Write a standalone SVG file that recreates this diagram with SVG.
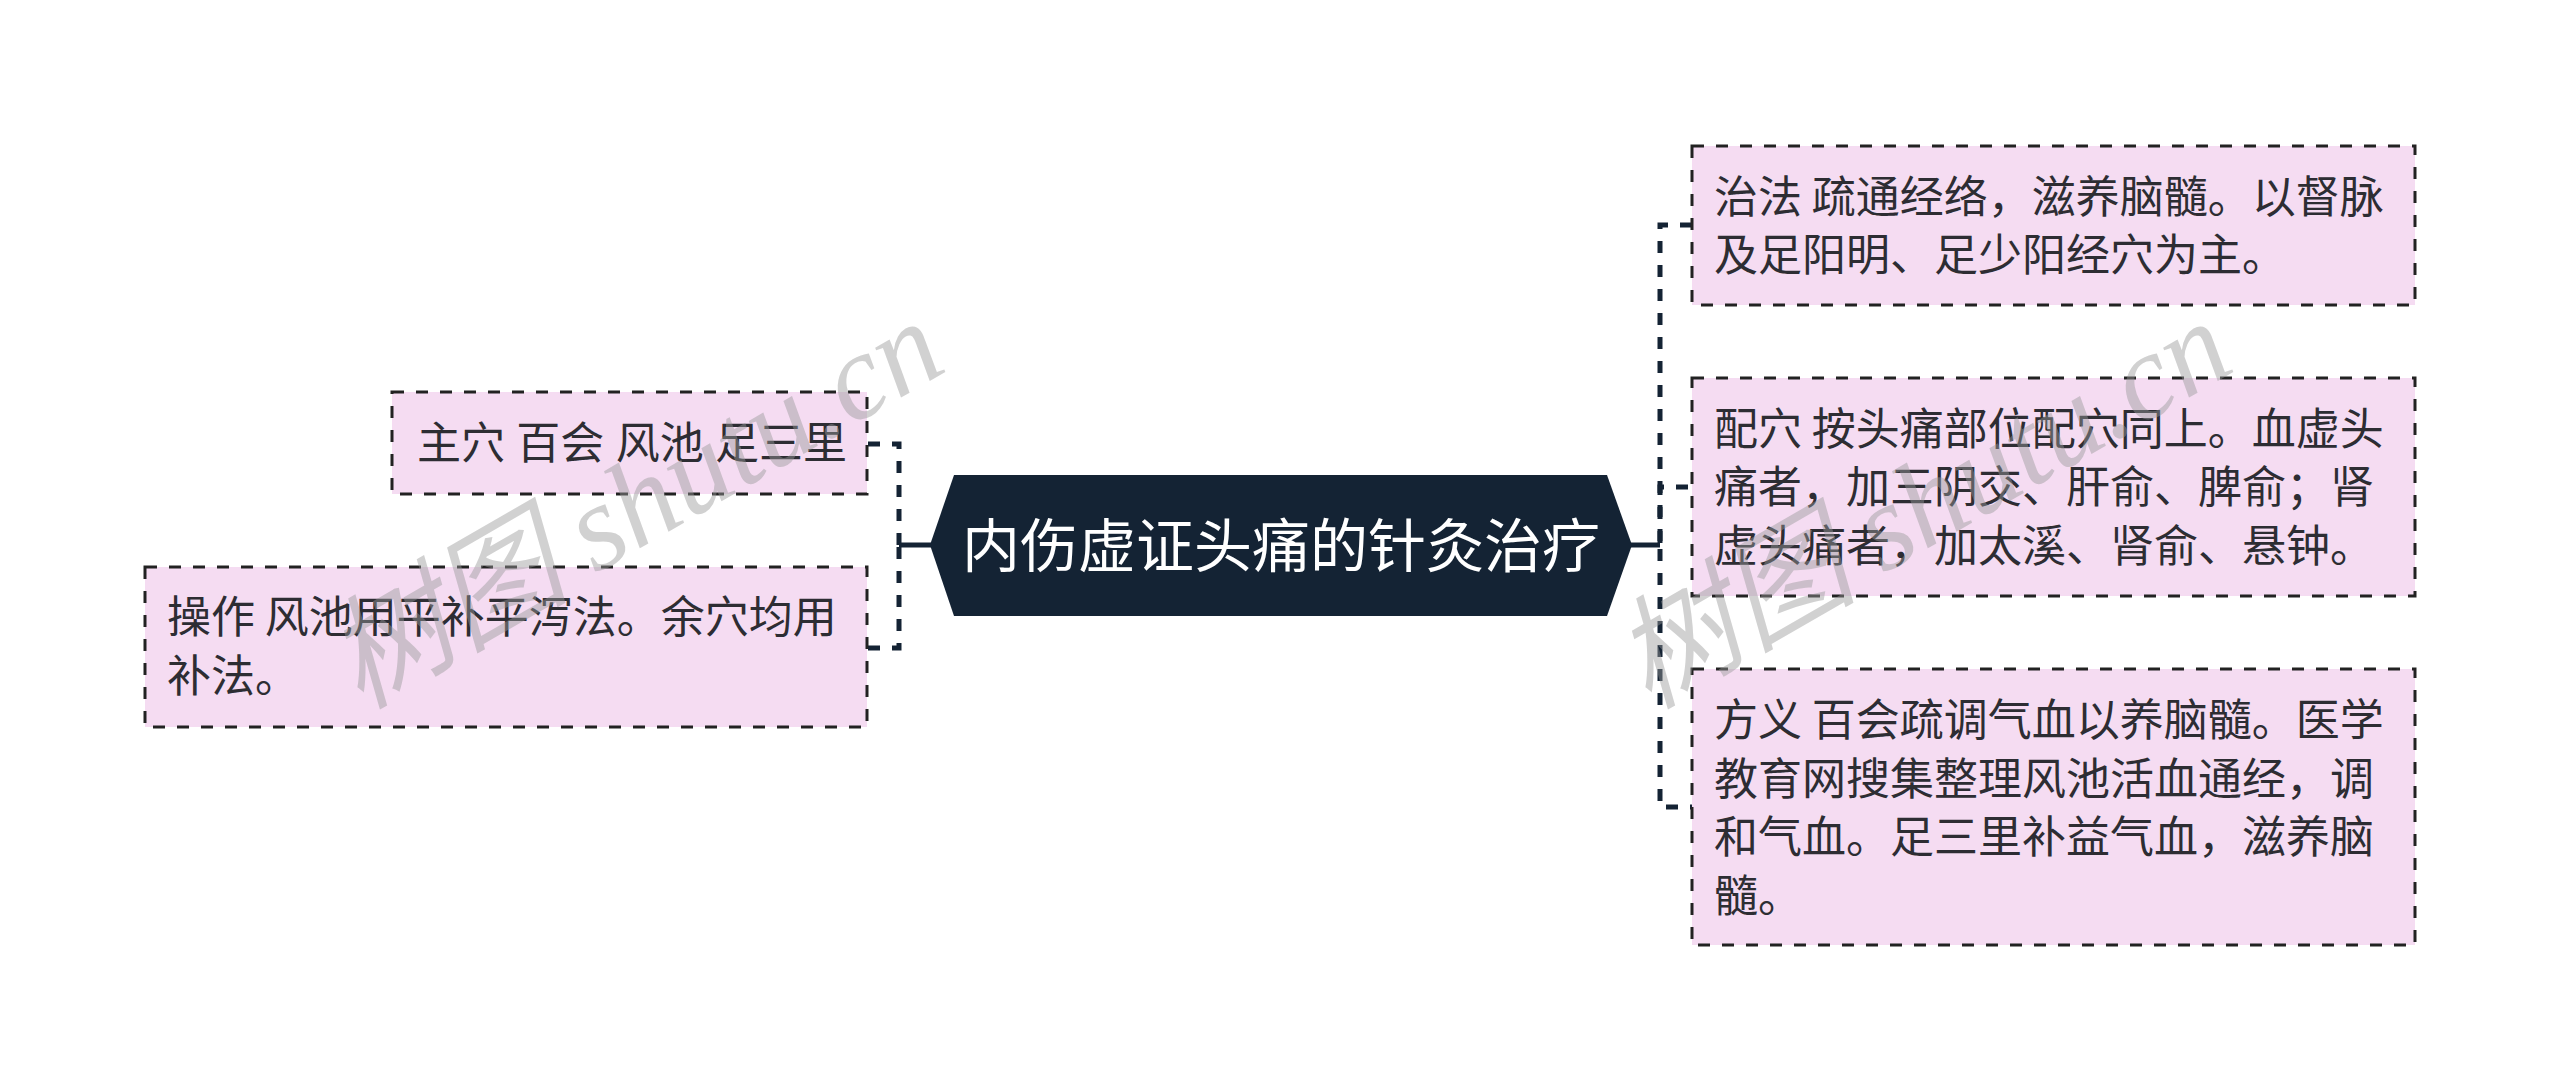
<svg xmlns="http://www.w3.org/2000/svg" width="2560" height="1091" viewBox="0 0 2560 1091">
<style>
text{font-family:"Noto Sans CJK SC","Liberation Sans",sans-serif}
.box{fill:#f5dcf2;stroke:#222;stroke-width:3;stroke-dasharray:12 12}
.t{font-size:44px;fill:#2d2d33}
.root{fill:#142334}
.rt{font-size:58px;fill:#fff;text-anchor:middle}
.c{fill:none;stroke:#142334;stroke-width:5;stroke-dasharray:12 12}
.s{fill:none;stroke:#142334;stroke-width:5}
.wm{font-size:122px;font-style:italic;fill:#999;fill-opacity:.45}
.wm tspan.l{font-family:"Liberation Serif",serif}
</style>
<rect width="2560" height="1091" fill="#fff"/>
<g id="connectors">
<path class="c" d="M868,444H899V545"/>
<path class="c" d="M868,648H899V545"/>
<path class="s" d="M899,545H932"/>
<path class="c" d="M1692,225H1660V545"/>
<path class="c" style="stroke-dashoffset:20" d="M1692,487H1660V545"/>
<path class="c" style="stroke-dashoffset:10" d="M1692,807H1660V545"/>
<path class="s" d="M1630,545H1660"/>
</g>
<g id="root">
<polygon class="root" points="930,545 954,475 1607,475 1632,545 1607,616 954,616"/>
<text class="rt" x="1281" y="567">内伤虚证头痛的针灸治疗</text>
</g>
<g id="n1">
<rect class="box" x="392" y="392" width="475" height="102"/>
<text class="t" x="417" y="459" word-spacing="1.5">主穴 百会 风池 足三里</text>
</g>
<g id="n2">
<rect class="box" x="145" y="567" width="722" height="160"/>
<text class="t" x="167" y="633">操作 风池用平补平泻法。余穴均用</text>
<text class="t" x="167" y="692">补法。</text>
</g>
<g id="n3">
<rect class="box" x="1692" y="146" width="723" height="159"/>
<text class="t" x="1714" y="213">治法 疏通经络，滋养脑髓。以督脉</text>
<text class="t" x="1714" y="271">及足阳明、足少阳经穴为主。</text>
</g>
<g id="n4">
<rect class="box" x="1692" y="378" width="723" height="218"/>
<text class="t" x="1714" y="445">配穴 按头痛部位配穴同上。血虚头</text>
<text class="t" x="1714" y="503">痛者，加三阴交、肝俞、脾俞；肾</text>
<text class="t" x="1714" y="562">虚头痛者，加太溪、肾俞、悬钟。</text>
</g>
<g id="n5">
<rect class="box" x="1692" y="669" width="723" height="276"/>
<text class="t" x="1714" y="736">方义 百会疏调气血以养脑髓。医学</text>
<text class="t" x="1714" y="795">教育网搜集整理风池活血通经，调</text>
<text class="t" x="1714" y="853">和气血。足三里补益气血，滋养脑</text>
<text class="t" x="1714" y="912">髓。</text>
</g>
<g id="watermarks">
<text class="wm" transform="translate(360,710) rotate(-30)">树图 <tspan class="l">shutu.cn</tspan></text>
<text class="wm" transform="translate(1648,710) rotate(-30)">树图 <tspan class="l">shutu.cn</tspan></text>
</g>
</svg>
